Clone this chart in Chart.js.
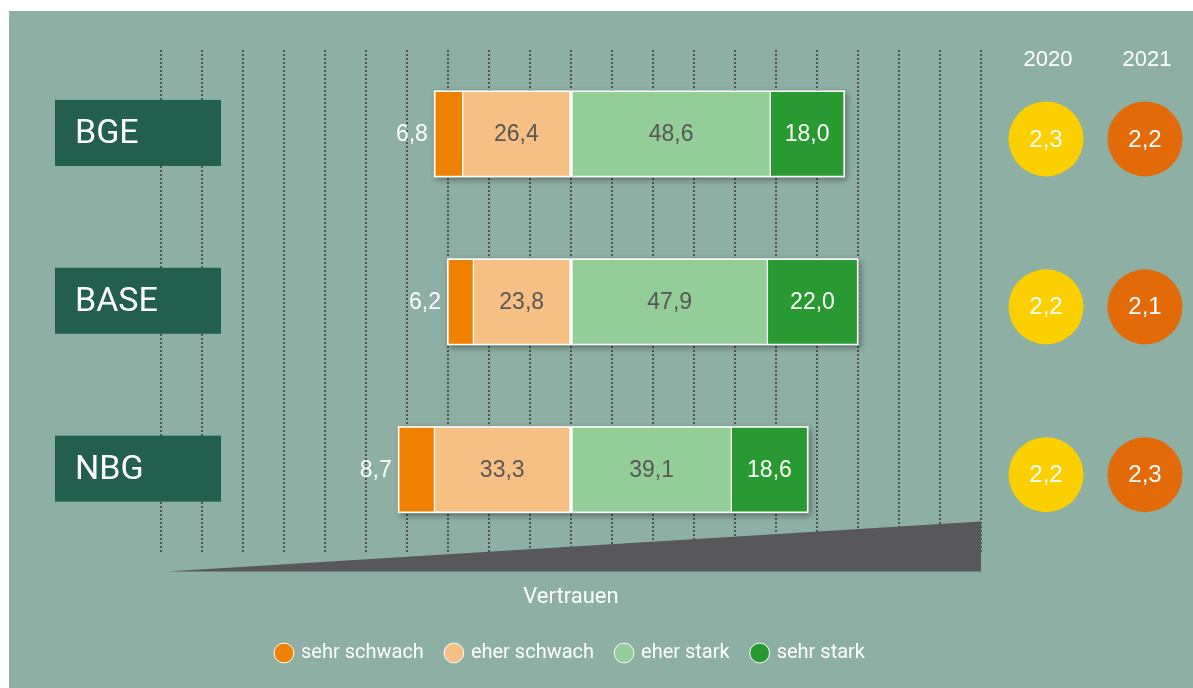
<!DOCTYPE html>
<html lang="de">
<head>
<meta charset="utf-8">
<title>Vertrauen</title>
<script src="https://cdn.jsdelivr.net/npm/chart.js@4/dist/chart.umd.min.js"></script>
<style>
  html, body { margin: 0; padding: 0; background: #ffffff; }
  #wrap { width: 1193px; height: 688px; }
</style>
</head>
<body>
<div id="wrap"><canvas id="vertrauen"></canvas></div>
<script>
// Daten
var kategorien = ['BGE', 'BASE', 'NBG'];
var sehrSchwach = [6.8, 6.2, 8.7];
var eherSchwach = [26.4, 23.8, 33.3];
var eherStark = [48.6, 47.9, 39.1];
var sehrStark = [18.0, 22.0, 18.6];
var jahre = ['2020', '2021'];
var wert2020 = [2.3, 2.2, 2.2];
var wert2021 = [2.2, 2.1, 2.3];

var hintergrund = '#8eafa3';
var schmal = "Roboto, 'Liberation Sans', Arial, sans-serif";
var normal = "'Liberation Sans', Arial, sans-serif";

function komma(v) {
  return Math.abs(v).toFixed(1).replace('.', ',');
}

// negative Werte fuer die linke Seite
var links1 = eherSchwach.map(function(v) { return -v; });
var links2 = sehrSchwach.map(function(v) { return -v; });

var deko = {
  id: 'deko',
  beforeDraw: function(chart) {
    var ctx = chart.ctx;
    ctx.save();
    ctx.fillStyle = '#ffffff';
    ctx.fillRect(0, 0, chart.width, chart.height);
    ctx.fillStyle = hintergrund;
    ctx.fillRect(9, 11, chart.width - 9, chart.height - 11);
    ctx.restore();
  },
  beforeDatasetsDraw: function(chart) {
    var ctx = chart.ctx;
    var x = chart.scales.x;
    var unten = chart.chartArea.bottom;
    // Keil "Vertrauen"
    ctx.save();
    ctx.fillStyle = '#58585a';
    ctx.beginPath();
    ctx.moveTo(x.getPixelForValue(-98.5), unten + 18);
    ctx.lineTo(x.getPixelForValue(100), unten - 32);
    ctx.lineTo(x.getPixelForValue(100), unten + 18);
    ctx.closePath();
    ctx.fill();
    ctx.restore();

    // Schatten und weisser Rahmen je Balken
    for (var i = 0; i < kategorien.length; i++) {
      var l = Infinity, r = -Infinity, oben = 0, h = 0;
      chart.data.datasets.forEach(function(ds, d) {
        var el = chart.getDatasetMeta(d).data[i];
        var p = el.getProps(['x', 'base', 'y', 'height'], true);
        l = Math.min(l, p.x, p.base);
        r = Math.max(r, p.x, p.base);
        oben = p.y - p.height / 2;
        h = p.height;
      });
      ctx.save();
      ctx.shadowColor = 'rgba(0,0,0,0.35)';
      ctx.shadowBlur = 6;
      ctx.shadowOffsetX = 2;
      ctx.shadowOffsetY = 3;
      ctx.fillStyle = '#ffffff';
      ctx.fillRect(l - 1, oben - 1, r - l + 2, h + 2);
      ctx.restore();
    }
  },
  afterDatasetsDraw: function(chart) {
    var ctx = chart.ctx;
    ctx.save();
    ctx.font = '23px ' + normal;
    ctx.textBaseline = 'middle';
    chart.data.datasets.forEach(function(ds, d) {
      var meta = chart.getDatasetMeta(d);
      meta.data.forEach(function(el, i) {
        var p = el.getProps(['x', 'base', 'y'], true);
        var txt = komma(ds.data[i]);
        if (ds.label == 'sehr schwach') {
          ctx.fillStyle = '#ffffff';
          ctx.textAlign = 'right';
          ctx.fillText(txt, Math.min(p.x, p.base) - 7, p.y + 1);
        } else {
          ctx.fillStyle = ds.label == 'sehr stark' ? '#ffffff' : '#575757';
          ctx.textAlign = 'center';
          ctx.fillText(txt, (p.x + p.base) / 2, p.y + 1);
        }
      });
    });
    ctx.restore();
  },
  afterDraw: function(chart) {
    var ctx = chart.ctx;
    var y = chart.scales.y;
    var rechts = chart.chartArea.right;
    ctx.save();
    // Kategorie-Kaesten links
    for (var i = 0; i < kategorien.length; i++) {
      var yc = y.getPixelForValue(i);
      ctx.fillStyle = '#225f4c';
      ctx.fillRect(55, yc - 34, 166, 66);
      ctx.fillStyle = '#ffffff';
      ctx.font = '34px ' + schmal;
      ctx.textAlign = 'left';
      ctx.textBaseline = 'middle';
      ctx.fillText(kategorien[i], 75, yc + 1);
    }
    // Jahre und Kreise rechts
    var kreisX = [rechts + 65, rechts + 164];
    var farben = ['#fbcf00', '#e36a08'];
    var reihen = [wert2020, wert2021];
    ctx.textAlign = 'center';
    ctx.textBaseline = 'middle';
    for (var j = 0; j < jahre.length; j++) {
      ctx.fillStyle = '#ffffff';
      ctx.font = '22px ' + normal;
      ctx.fillText(jahre[j], kreisX[j] + 2, 60);
      for (var k = 0; k < kategorien.length; k++) {
        var yk = y.getPixelForValue(k) + 5;
        ctx.fillStyle = farben[j];
        ctx.beginPath();
        ctx.arc(kreisX[j], yk, 37.5, 0, Math.PI * 2);
        ctx.fill();
        ctx.fillStyle = '#ffffff';
        ctx.font = '24px ' + normal;
        ctx.fillText(komma(reihen[j][k]), kreisX[j], yk + 1);
      }
    }
    ctx.restore();
  }
};

var legendRang = [1, 0, 2, 3];

var config = {
  type: 'bar',
  data: {
    labels: kategorien,
    datasets: [{
      label: 'eher schwach',
      data: links1,
      backgroundColor: '#f6bf83'
    }, {
      label: 'sehr schwach',
      data: links2,
      backgroundColor: '#f08000'
    }, {
      label: 'eher stark',
      data: eherStark,
      backgroundColor: '#93ce99'
    }, {
      label: 'sehr stark',
      data: sehrStark,
      backgroundColor: '#289a31'
    }]
  },
  options: {
    indexAxis: 'y',
    responsive: true,
    maintainAspectRatio: false,
    animation: false,
    datasets: {
      bar: {
        barThickness: 85,
        borderColor: '#ffffff',
        borderWidth: 1,
        borderSkipped: false
      }
    },
    layout: {
      padding: { left: 161, right: 212, top: 50, bottom: 15 }
    },
    scales: {
      x: {
        stacked: true,
        min: -100,
        max: 100,
        ticks: { display: false, stepSize: 10 },
        grid: {
          color: '#525252',
          lineWidth: 2,
          drawTicks: false
        },
        border: { display: false, dash: [2, 2] },
        title: {
          display: true,
          text: 'Vertrauen',
          color: '#ffffff',
          font: { family: schmal, size: 22 },
          padding: { top: 31, bottom: 9 }
        }
      },
      y: {
        stacked: true,
        display: false
      }
    },
    plugins: {
      tooltip: { enabled: false },
      legend: {
        position: 'bottom',
        labels: {
          color: '#ffffff',
          font: { family: schmal, size: 20 },
          usePointStyle: true,
          pointStyle: 'circle',
          boxWidth: 14,
          boxHeight: 14,
          padding: 23,
          sort: function(a, b) {
            return legendRang[a.datasetIndex] - legendRang[b.datasetIndex];
          }
        }
      }
    }
  },
  plugins: [deko]
};

var ctx = document.getElementById('vertrauen');
window.vertrauenChart = new Chart(ctx, config);
</script>
</body>
</html>
